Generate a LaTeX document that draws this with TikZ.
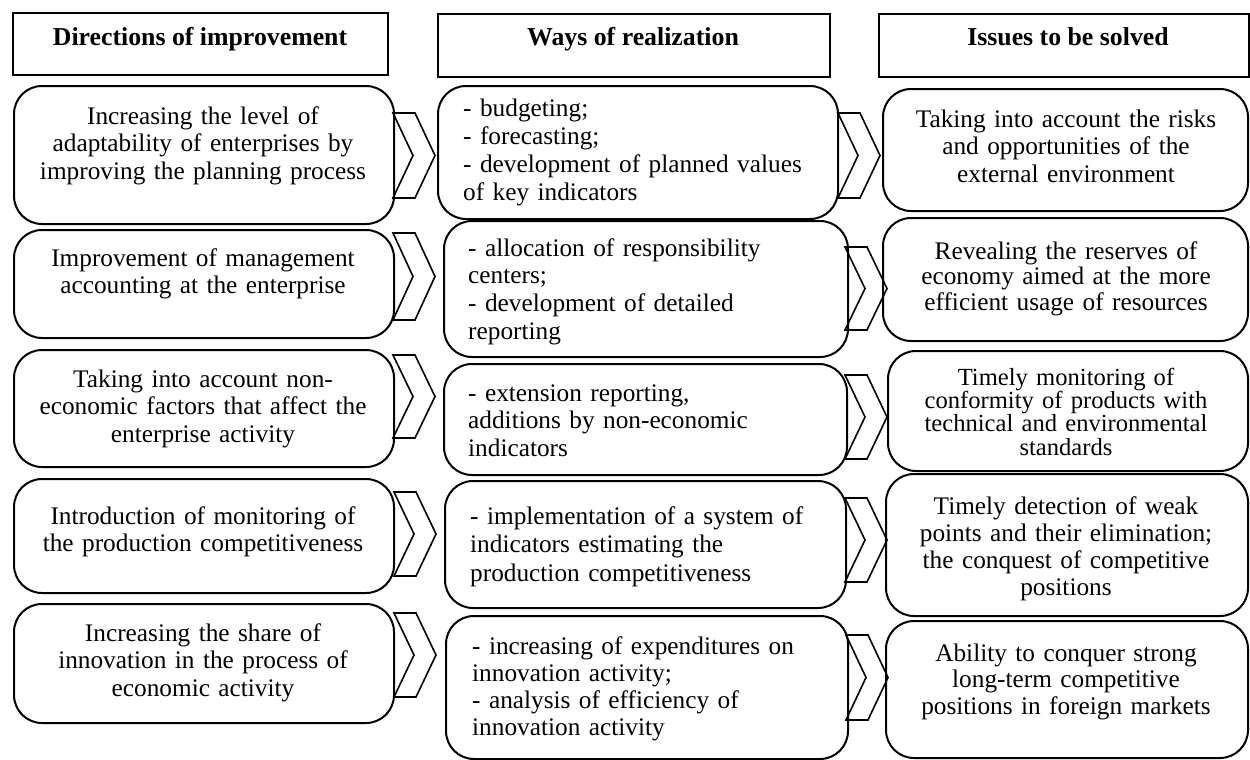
\documentclass[tikz,border=0pt]{standalone}
\usepackage{fontspec}
\setmainfont{Liberation Serif}
\newcommand{\mychev}[3]{\draw[chev] (#1,#2) -- ++(22,0) -- (#1+42,{(#2+#3)/2}) -- (#1+22,#3) -- (#1,#3) -- (#1+20,{(#2+#3)/2}) -- cycle;}
\tikzset{
  hbox/.style={draw, line width=2pt, anchor=north west, inner sep=0pt},
  rbox/.style={draw, line width=2pt, rounded corners=28pt, anchor=north west, inner sep=0pt},
  chev/.style={line width=1.6pt, line join=miter, fill=white},
  headtxt/.style={font=\fontsize{25.8}{28}\selectfont\bfseries, anchor=base, inner sep=0pt},
  ctxt/.style={font=\fontsize{25.3}{#1}\selectfont, text width=370pt, align=center, anchor=base, inner sep=0pt},
  ltxt/.style={font=\fontsize{25.3}{#1}\selectfont, text width=380pt, align=left, anchor=base west, inner sep=0pt},
}
\begin{document}
\begin{tikzpicture}[x=1pt,y=-1pt]
\useasboundingbox (0,0) rectangle (1250,760);
% headers
\node[hbox, minimum width=375pt, minimum height=62pt] (h1) at (12,12) {};
\node[hbox, minimum width=392pt, minimum height=63pt] (h2) at (437,13) {};
\node[hbox, minimum width=370pt, minimum height=63pt] (h3) at (878,13) {};
\node[headtxt] (h1t) at (200,46) {Directions of improvement};
\node[headtxt] (h2t) at (633,46) {Ways of realization};
\node[headtxt] (h3t) at (1068,46) {Issues to be solved};
% chevrons col1 -> col2
\mychev{393}{113}{198}
\mychev{393}{233}{320}
\mychev{393}{355}{438}
\mychev{394}{492}{576}
\mychev{394}{613}{697}
% chevrons col2 -> col3
\mychev{838}{113}{198}
\mychev{845}{247}{330}
\mychev{845}{375}{459}
\mychev{845}{498}{582}
\mychev{846}{635}{720}
% column 1
\node[rbox, minimum width=380pt, minimum height=138pt] (a1) at (13,85) {};
\node[rbox, minimum width=380pt, minimum height=108pt] (a2) at (13,229) {};
\node[rbox, minimum width=380pt, minimum height=117pt] (a3) at (13,349) {};
\node[rbox, minimum width=380pt, minimum height=114pt] (a4) at (13,478) {};
\node[rbox, minimum width=380pt, minimum height=119pt] (a5) at (13,603) {};
\node[ctxt=27.5] (a1t) at (203,124) {Increasing the level of\\adaptability of enterprises by\\improving the planning process};
\node[ctxt=27.5] (a2t) at (203,266) {Improvement of management\\accounting at the enterprise};
\node[ctxt=27.5] (a3t) at (203,387) {Taking into account non-\\economic factors that affect the\\enterprise activity};
\node[ctxt=27.5] (a4t) at (203,524) {Introduction of monitoring of\\the production competitiveness};
\node[ctxt=27.5] (a5t) at (203,641) {Increasing the share of\\innovation in the process of\\economic activity};
% column 2
\node[rbox, minimum width=400pt, minimum height=133pt] (b1) at (437,85) {};
\node[rbox, minimum width=404pt, minimum height=136pt] (b2) at (443,220) {};
\node[rbox, minimum width=403pt, minimum height=111pt] (b3) at (443,363) {};
\node[rbox, minimum width=401pt, minimum height=127pt] (b4) at (444,480) {};
\node[rbox, minimum width=402pt, minimum height=143pt] (b5) at (445,615) {};
\node[ltxt=28.3] (b1t) at (463,116) {- budgeting;\\- forecasting;\\- development of planned values\\of key indicators};
\node[ltxt=27.7] (b2t) at (468,256) {- allocation of responsibility\\centers;\\- development of detailed\\reporting};
\node[ltxt=27.5] (b3t) at (468,401) {- extension reporting,\\additions by non-economic\\indicators};
\node[ltxt=28.5] (b4t) at (470,524) {- implementation of a system of\\indicators estimating the\\production competitiveness};
\node[ltxt=27.3] (b5t) at (472,654) {- increasing of expenditures on\\innovation activity;\\- analysis of efficiency of\\innovation activity};
% column 3
\node[rbox, minimum width=365pt, minimum height=122pt] (c1) at (882,88) {};
\node[rbox, minimum width=365pt, minimum height=123pt] (c2) at (882,217) {};
\node[rbox, minimum width=360pt, minimum height=120pt] (c3) at (887,350) {};
\node[rbox, minimum width=362pt, minimum height=142pt] (c4) at (885,473) {};
\node[rbox, minimum width=362pt, minimum height=137pt] (c5) at (885,620) {};
\node[ctxt=27.5] (c1t) at (1066,127) {Taking into account the risks\\and opportunities of the\\external environment};
\node[ctxt=25.5] (c2t) at (1066,259) {Revealing the reserves of\\economy aimed at the more\\efficient usage of resources};
\node[ctxt=23.4, font=\fontsize{24.6}{23.4}\selectfont] (c3t) at (1066,385) {Timely monitoring of\\conformity of products with\\technical and environmental\\standards};
\node[ctxt=27.3] (c4t) at (1066,514) {Timely detection of weak\\points and their elimination;\\the conquest of competitive\\positions};
\node[ctxt=26.5] (c5t) at (1066,661) {Ability to conquer strong\\long-term competitive\\positions in foreign markets};
\end{tikzpicture}
\end{document}
